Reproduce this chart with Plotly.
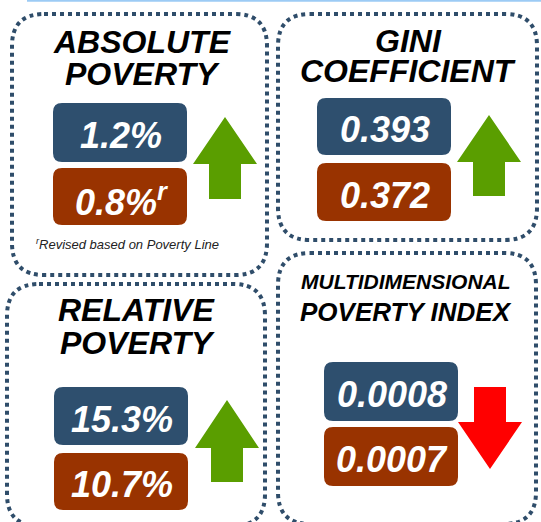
import plotly.graph_objects as go

# ---- data ----
titles = [["ABSOLUTE", "POVERTY"], ["GINI", "COEFFICIENT"],
          ["RELATIVE", "POVERTY"], ["MULTIDIMENSIONAL", "POVERTY INDEX"]]
current_values = ["1.2%", "0.393", "15.3%", "0.0008"]
previous_values = ["0.8%<sup>r</sup>", "0.372", "10.7%", "0.0007"]
directions = ["up", "up", "up", "down"]
footnote = "<sup>r</sup>Revised based on Poverty Line"

# ---- styling / layout geometry ----
W, H = 541, 522
FONT = "Liberation Sans"
BLUE, BROWN, GREEN, RED = "#2E4F6E", "#993300", "#5A9E00", "#FF0000"
BORDER = "#2F4D6A"

panels = [  # dotted frame x0, y0, x1, y1
    (12, 14, 267, 275), (278, 14, 537, 240),
    (7, 284, 265, 526), (278, 253, 536, 524)]
title_pos = [  # (cx, y line1, y line2, size1, size2)
    (142, 42, 74, 32, 32), (408, 41, 71, 32, 32),
    (137, 310, 343, 32, 32), (406, 281, 312, 21, 26)]
box_geo = [  # x0, x1, blue y0, y1, brown y0, y1
    (53, 187, 103, 162, 168, 225), (317, 451, 98, 155, 163, 221),
    (54, 188, 387, 445, 453, 510), (324, 458, 362, 421, 427, 486)]
arrow_geo = [  # cx, y_tip, y_headbase, y_end, head half width, shaft half width
    (225, 117, 164, 199, 32, 16), (489, 115, 162, 196, 32, 16),
    (227, 400, 448, 482, 32, 16), (490, 469, 422, 387, 32, 16)]


def rrect(x0, y0, x1, y1, r):
    return (f"M {x0+r},{y0} L {x1-r},{y0} Q {x1},{y0} {x1},{y0+r} "
            f"L {x1},{y1-r} Q {x1},{y1} {x1-r},{y1} L {x0+r},{y1} "
            f"Q {x0},{y1} {x0},{y1-r} L {x0},{y0+r} Q {x0},{y0} {x0+r},{y0} Z")


def arrow(cx, yt, yb, ye, hw, sw):
    return (f"M {cx},{yt} L {cx+hw},{yb} L {cx+sw},{yb} L {cx+sw},{ye} "
            f"L {cx-sw},{ye} L {cx-sw},{yb} L {cx-hw},{yb} Z")


fig = go.Figure()
fig.add_trace(go.Scatter(x=[], y=[], hoverinfo="skip"))
shapes, annots = [], []

# top light-blue rule
shapes.append(dict(type="line", x0=27, x1=W, y0=0.5, y1=0.5, xref="x", yref="y",
                   line=dict(color="#9CCBF5", width=2.5)))

for i in range(4):
    x0, y0, x1, y1 = panels[i]
    shapes.append(dict(type="path", path=rrect(x0, y0, x1, y1, 32), xref="x", yref="y",
                       line=dict(color=BORDER, width=4, dash="4px,4px")))
    bx0, bx1, b1y0, b1y1, b2y0, b2y1 = box_geo[i]
    shapes.append(dict(type="path", path=rrect(bx0, b1y0, bx1, b1y1, 9), xref="x", yref="y",
                       fillcolor=BLUE, line=dict(width=0)))
    shapes.append(dict(type="path", path=rrect(bx0, b2y0, bx1, b2y1, 9), xref="x", yref="y",
                       fillcolor=BROWN, line=dict(width=0)))
    cx, yt, yb, ye, hw, sw = arrow_geo[i]
    shapes.append(dict(type="path", path=arrow(cx, yt, yb, ye, hw, sw), xref="x", yref="y",
                       fillcolor=GREEN if directions[i] == "up" else RED, line=dict(width=0)))

    tcx, ty1, ty2, s1, s2 = title_pos[i]
    for txt, ty, sz in [(titles[i][0], ty1, s1), (titles[i][1], ty2, s2)]:
        annots.append(dict(x=tcx, y=ty, xref="x", yref="y", text=f"<b><i>{txt}</i></b>",
                           showarrow=False, xanchor="center", yanchor="middle",
                           font=dict(family=FONT, size=sz, color="black")))
    vcx = (bx0 + bx1) / 2 + 1
    annots.append(dict(x=vcx, y=(b1y0 + b1y1) / 2 + 3, xref="x", yref="y",
                       text=f"<b><i>{current_values[i]}</i></b>", showarrow=False,
                       xanchor="center", yanchor="middle",
                       font=dict(family=FONT, size=36, color="white")))
    annots.append(dict(x=vcx, y=(b2y0 + b2y1) / 2 + 3, xref="x", yref="y",
                       text=f"<b><i>{previous_values[i]}</i></b>", showarrow=False,
                       xanchor="center", yanchor="middle",
                       font=dict(family=FONT, size=36, color="white")))

annots.append(dict(x=127, y=244, xref="x", yref="y", text=f"<i>{footnote}</i>",
                   showarrow=False, xanchor="center", yanchor="middle",
                   font=dict(family=FONT, size=13, color="#222222")))

fig.update_layout(
    width=W, height=H, margin=dict(l=0, r=0, t=0, b=0),
    paper_bgcolor="white", plot_bgcolor="white", showlegend=False,
    xaxis=dict(range=[0, W], visible=False, fixedrange=True),
    yaxis=dict(range=[H, 0], visible=False, fixedrange=True),
    shapes=shapes, annotations=annots)

fig.write_html("out.html", config={"displayModeBar": False, "staticPlot": True},
               post_script="document.body.style.margin='0';"
               "document.body.style.overflow='hidden';")
